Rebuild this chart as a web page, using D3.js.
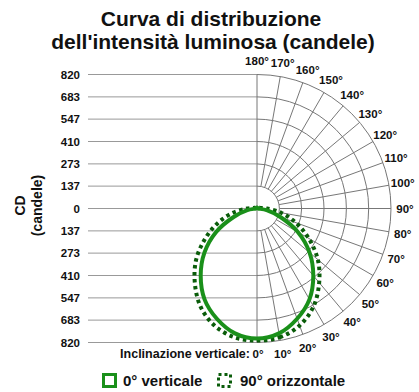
<!DOCTYPE html>
<html>
<head>
<meta charset="utf-8">
<script src="https://cdn.jsdelivr.net/npm/d3@7"></script>
<style>
body { margin: 0; background: #fff; }
svg text { font-family: "Liberation Sans", Arial, sans-serif; font-weight: bold; fill: #111; }
.title { font-size: 21px; text-anchor: middle; }
.tick-label { font-size: 11.5px; text-anchor: end; }
.angle-label { font-size: 11.5px; text-anchor: middle; }
.ylabel { font-size: 14px; text-anchor: middle; }
.legend { font-size: 15px; }
</style>
</head>
<body>
<svg id="chart" width="419" height="392"></svg>
<script>
// candela ticks on the vertical scale
var ticks = [0, 137, 273, 410, 547, 683, 820];
// inclination angles (deg) for the curves, 0 = down, 180 = up
var angles = [0, 10, 20, 30, 40, 50, 60, 70, 80, 90, 100, 110, 120, 130, 140, 150, 160, 170, 180];
var vertical0 = [796, 776, 718, 642, 536, 420, 290, 152, 60, 8, 6, 6, 6, 6, 6, 6, 6, 6, 6];
var horizontal90 = [808, 800, 762, 692, 592, 486, 365, 252, 150, 60, 22, 12, 10, 10, 10, 10, 10, 10, 10];
var gridAngles = [10, 20, 30, 40, 50, 60, 70, 80, 90, 100, 110, 120, 130, 140, 150, 160, 170];
var labelAngles = [10, 20, 30, 40, 50, 60, 70, 80, 90, 100, 110, 120, 130, 140, 150, 160, 170, 180];

var svg = d3.select("#chart"),
    cx = 257,
    cy = 208.5,
    left = 88;

var green = "#1a901a",
    darkGreen = "#0a5c0a";

var r = d3.scaleLinear().domain([0, 820]).range([0, 134]);
var rad = function(a) { return a * Math.PI / 180; };

svg.append("text").attr("class", "title")
  .attr("x", 211).attr("y", 26).text("Curva di distribuzione");
svg.append("text").attr("class", "title")
  .attr("x", 213).attr("y", 49).text("dell'intensità luminosa (candele)");

var grid = svg.append("g");

// horizontal lines, upper and lower half
ticks.forEach(function(t) {
  [-1, 1].forEach(function(s) {
    if (t === 0 && s === 1) return;
    grid.append("line")
      .attr("x1", left).attr("x2", cx)
      .attr("y1", cy + s * r(t)).attr("y2", cy + s * r(t))
      .attr("stroke", "#999").attr("stroke-width", 1);
    svg.append("text").attr("class", "tick-label")
      .attr("x", 80).attr("y", cy + s * r(t)).attr("dy", "0.36em")
      .text(t);
  });
});

// concentric half circles
ticks.slice(1).forEach(function(t) {
  var p = d3.path();
  p.arc(cx, cy, r(t), -Math.PI / 2, Math.PI / 2);
  grid.append("path").attr("d", p.toString())
    .attr("fill", "none").attr("stroke", "#777").attr("stroke-width", 1);
});

// radial lines
grid.selectAll(".spoke")
  .data(gridAngles)
  .enter().append("line")
    .attr("class", "spoke")
    .attr("x1", function(d) { return cx + r(137) * Math.sin(rad(d)); })
    .attr("y1", function(d) { return cy + r(137) * Math.cos(rad(d)); })
    .attr("x2", function(d) { return cx + r(820) * Math.sin(rad(d)); })
    .attr("y2", function(d) { return cy + r(820) * Math.cos(rad(d)); })
    .attr("stroke", "#777").attr("stroke-width", 1);

grid.append("line")
  .attr("x1", cx).attr("x2", cx)
  .attr("y1", cy - r(820)).attr("y2", cy + r(820))
  .attr("stroke", "#777").attr("stroke-width", 1);

// angle labels
var lr = 148;
svg.selectAll(".angle-label")
  .data(labelAngles)
  .enter().append("text")
    .attr("class", "angle-label")
    .attr("x", function(d) { return cx + lr * Math.sin(rad(d)); })
    .attr("y", function(d) { return cy + lr * Math.cos(rad(d)); })
    .attr("dy", "0.36em")
    .text(function(d) { return d + "°"; });

svg.append("text").attr("class", "angle-label")
  .attr("x", cx + 1).attr("y", cy + 145).attr("dy", "0.36em").text("0°");
svg.append("text").attr("class", "angle-label")
  .style("font-size", "12.5px").style("text-anchor", "end")
  .attr("x", cx - 7).attr("y", cy + 145).attr("dy", "0.36em")
  .text("Inclinazione verticale:");

// y axis title
svg.append("text").attr("class", "ylabel")
  .attr("transform", "translate(25," + (cy - 3) + ") rotate(-90)")
  .text("CD");
svg.append("text").attr("class", "ylabel")
  .attr("transform", "translate(42," + (cy - 3) + ") rotate(-90)")
  .text("(candele)");

// curves: right half then mirrored left half
function points(vals) {
  var out = [];
  angles.forEach(function(a, i) { out.push([Math.PI - rad(a), r(vals[i])]); });
  for (var i = angles.length - 2; i > 0; i--) {
    out.push([Math.PI + rad(angles[i]), r(vals[i])]);
  }
  return out;
}

var radial = d3.lineRadial()
  .angle(function(d) { return d[0]; })
  .radius(function(d) { return d[1]; })
  .curve(d3.curveCatmullRomClosed.alpha(0.5));

var curves = svg.append("g").attr("transform", "translate(" + cx + "," + cy + ")");

curves.append("path")
  .attr("d", radial(points(horizontal90)))
  .attr("fill", "none").attr("stroke", darkGreen)
  .attr("stroke-width", 4).attr("stroke-dasharray", "3.5,3.5");

curves.append("path")
  .attr("d", radial(points(vertical0)))
  .attr("fill", "none").attr("stroke", green)
  .attr("stroke-width", 4).attr("stroke-linejoin", "round");

// legend
svg.append("rect")
  .attr("x", 103.5).attr("y", 374.5).attr("width", 12).attr("height", 12)
  .attr("fill", "none").attr("stroke", green).attr("stroke-width", 3);
svg.append("text").attr("class", "legend")
  .attr("x", 123).attr("y", 386).text("0° verticale");

svg.append("rect")
  .attr("x", 218.5).attr("y", 374.5).attr("width", 12).attr("height", 12)
  .attr("fill", "none").attr("stroke", darkGreen).attr("stroke-width", 3)
  .attr("stroke-dasharray", "3,3");
svg.append("text").attr("class", "legend")
  .attr("x", 240).attr("y", 386).text("90° orizzontale");
</script>
</body>
</html>
